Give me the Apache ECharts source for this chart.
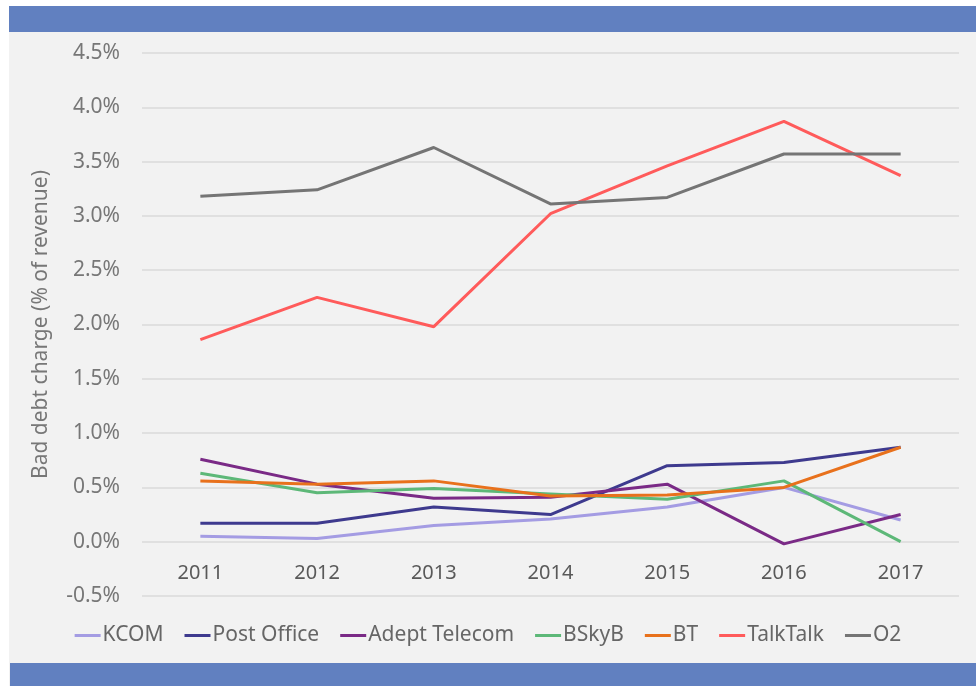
<!DOCTYPE html>
<html>
<head>
<meta charset="utf-8">
<script src="https://cdn.jsdelivr.net/npm/echarts@6/dist/echarts.min.js"></script>
<style>
  html, body { margin: 0; padding: 0; background: #ffffff; }
  #chart { width: 976px; height: 686px; }
</style>
</head>
<body>
<div id="chart"></div>
<script>
const years = ["2011", "2012", "2013", "2014", "2015", "2016", "2017"];
const kcom = [0.05, 0.03, 0.15, 0.21, 0.32, 0.50, 0.20];
const postOffice = [0.17, 0.17, 0.32, 0.25, 0.70, 0.73, 0.87];
const adeptTelecom = [0.76, 0.53, 0.40, 0.41, 0.53, -0.02, 0.25];
const bskyb = [0.63, 0.45, 0.49, 0.44, 0.39, 0.56, 0.00];
const bt = [0.56, 0.53, 0.56, 0.42, 0.43, 0.50, 0.87];
const talkTalk = [1.86, 2.25, 1.98, 3.02, 3.46, 3.87, 3.37];
const o2 = [3.18, 3.24, 3.63, 3.11, 3.17, 3.57, 3.57];

const seriesList = [
    { name: "KCOM", data: kcom, color: "#a49ce3" },
    { name: "Post Office", data: postOffice, color: "#3e3a8e" },
    { name: "Adept Telecom", data: adeptTelecom, color: "#7a2a86" },
    { name: "BSkyB", data: bskyb, color: "#5db878" },
    { name: "BT", data: bt, color: "#e8711c" },
    { name: "TalkTalk", data: talkTalk, color: "#ff5b5b" },
    { name: "O2", data: o2, color: "#757575" },
];

const font = "'Noto Sans', sans-serif";
const chart = echarts.init(document.getElementById("chart"));

chart.setOption({
    animation: false,
    textStyle: { fontFamily: font },
    graphic: [
        { type: "rect", z: -10, shape: { x: 9, y: 6, width: 967, height: 680 }, style: { fill: "#f2f2f2" } },
        { type: "rect", z: -5, shape: { x: 9, y: 6, width: 967, height: 26 }, style: { fill: "#6180c0" } },
        { type: "rect", z: -5, shape: { x: 10, y: 663, width: 966, height: 23 }, style: { fill: "#6180c0" } },
    ],
    grid: {
        left: 142,
        right: 17,
        top: 53,
        bottom: 90,
    },
    legend: {
        bottom: 35,
        left: "center",
        icon: "rect",
        itemWidth: 26,
        itemHeight: 3,
        itemGap: 21,
        textStyle: { color: "#666666", fontSize: 21, fontFamily: font, padding: [0, 0, 0, -3] },
        data: seriesList.map((s) => s.name),
    },
    xAxis: {
        type: "category",
        data: years,
        boundaryGap: true,
        offset: -54,
        axisLine: { show: false },
        axisTick: { show: false },
        axisLabel: { color: "#595959", fontSize: 20, margin: 21 },
    },
    yAxis: {
        type: "value",
        min: -0.5,
        max: 4.5,
        interval: 0.5,
        name: "Bad debt charge (% of revenue)",
        nameLocation: "middle",
        nameGap: 90,
        nameTextStyle: { color: "#777777", fontSize: 21, fontFamily: font },
        axisLine: { show: false },
        axisTick: { show: false },
        axisLabel: {
            color: "#777777",
            fontSize: 21,
            margin: 22,
            formatter: (v) => v.toFixed(1) + "%",
        },
        splitLine: { lineStyle: { color: "#dadada", width: 1.5 } },
    },
    series: seriesList.map((s) => ({
        name: s.name,
        type: "line",
        data: s.data,
        symbol: "none",
        color: s.color,
        lineStyle: { color: s.color, width: 3 },
    })),
});
</script>
</body>
</html>
